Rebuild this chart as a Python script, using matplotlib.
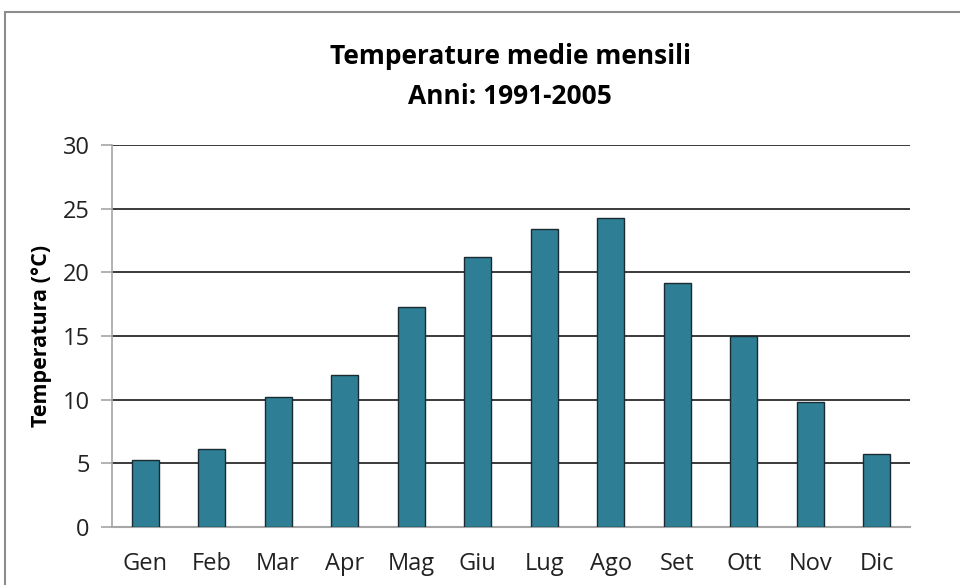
import matplotlib.pyplot as plt
from matplotlib.patches import Rectangle

mesi = ['Gen', 'Feb', 'Mar', 'Apr', 'Mag', 'Giu', 'Lug', 'Ago', 'Set', 'Ott', 'Nov', 'Dic']
temperature = [5.3, 6.1, 10.2, 11.9, 17.3, 21.2, 23.4, 24.3, 19.2, 15.0, 9.8, 5.7]
yticks = [0, 5, 10, 15, 20, 25, 30]

plt.rcParams['font.family'] = ['Open Sans', 'DejaVu Sans']

fig = plt.figure(figsize=(9.6, 5.85), dpi=100)
# chart area border (cropped on right and bottom)
fig.patches.append(Rectangle((5 / 960, -0.1), 1.2, 1 - 12 / 585 + 0.1, transform=fig.transFigure,
                             fill=False, edgecolor='#8c8c8c', linewidth=1.5))

ax = fig.add_axes([112 / 960, 1 - 527 / 585, (910 - 112) / 960, (527 - 145) / 585])
x = range(len(mesi))
ax.bar(x, temperature, width=0.41, color='#2e7f96', edgecolor='#1a2a30', linewidth=1, zorder=3)

ax.set_xlim(-0.5, len(mesi) - 0.5)
ax.set_ylim(0, 30)
ax.set_yticks(yticks)
ax.set_xticks(list(x))
ax.set_xticklabels(mesi)
for v in yticks[1:]:
    ax.axhline(v, color='#3a3a3a', linewidth=1.4, zorder=1)

for s in ['top', 'right']:
    ax.spines[s].set_visible(False)
ax.spines['left'].set_color('#a6a6a6')
ax.spines['bottom'].set_color('#a6a6a6')
ax.spines['left'].set_linewidth(1.2)
ax.spines['bottom'].set_linewidth(1.5)
ax.tick_params(axis='y', length=8, width=1.2, color='#a6a6a6', labelsize=17, pad=8, labelcolor='#222222')
ax.tick_params(axis='x', length=0, labelsize=17, pad=18, labelcolor='#222222')

ax.set_ylabel('Temperatura (°C)', fontsize=15.5, fontweight='bold', labelpad=8)
fig.text(510 / 960, 1 - 57 / 585, 'Temperature medie mensili', ha='center', va='center',
         fontsize=19, fontweight='bold')
fig.text(510 / 960, 1 - 97 / 585, 'Anni: 1991-2005', ha='center', va='center',
         fontsize=19, fontweight='bold')

fig.savefig('out.png', dpi=100)
